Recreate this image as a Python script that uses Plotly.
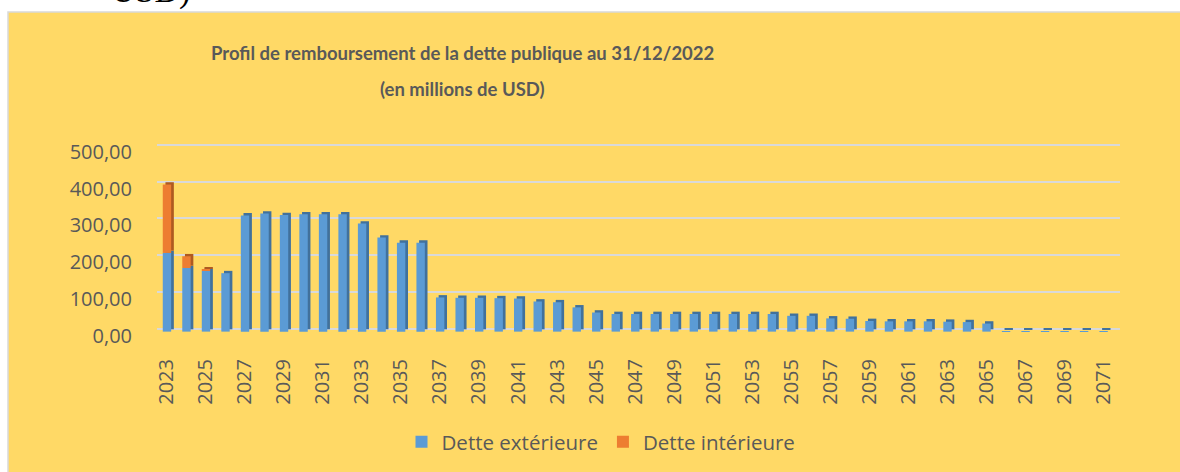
import plotly.graph_objects as go

# ---------------- data ----------------
years = [str(y) for y in range(2023, 2072)]
dette_exterieure = [214, 173, 165, 159, 316, 321, 317, 319, 319, 319,
                    294, 256, 242, 242, 93, 92, 92, 91, 90, 82,
                    80, 66, 52, 48, 48, 48, 48, 48, 48, 48,
                    48, 48, 43, 43, 36, 35, 29, 28, 28, 28,
                    27, 26, 22, 1, 1, 1, 1, 1, 1]
dette_interieure = [186, 32, 3] + [0] * 46
y_ticks = [0, 100, 200, 300, 400, 500]
y_tick_labels = ["0,00", "100,00", "200,00", "300,00", "400,00", "500,00"]
x_tick_years = years[::2]
title_line1 = "Profil de remboursement de la dette publique au 31/12/2022"
title_line2 = "(en millions de USD)"

# ---------------- style ----------------
W, H = 1180, 472
ML, MR, MT, MB = 157, 60, 143, 140
PW, PH = W - ML - MR, H - MT - MB
BG = "#FFD966"
TXT = "#595959"
BLUE, BLUE_D = "#5B9BD5", "#41719C"
ORANGE, ORANGE_D = "#ED7D31", "#AE5A21"
FONT = "Open Sans"
TITLE_FONT = "Lato"

FRONT_SHIFT = -8.0     # front plane sits a few px below the back wall (y units)
DEPTH_Y = 6.3          # vertical depth offset of bars (y units)
BAR_W = 0.43
BAR_OFF = -0.205
DEPTH_X = 0.138


def px_x(p):
    return (p - ML) / PW


def px_y(p):
    return (MT + PH - p) / PH


fig = go.Figure()

blue_base_front = [FRONT_SHIFT] * len(years)
orange_base_front = [FRONT_SHIFT + v for v in dette_exterieure]

# depth (side/top faces) drawn first
fig.add_trace(go.Bar(
    x=years, y=dette_exterieure, base=[b + DEPTH_Y for b in blue_base_front],
    width=BAR_W, offset=BAR_OFF + DEPTH_X, marker=dict(color=BLUE_D, line=dict(width=0)),
    showlegend=False, hoverinfo="skip"))
fig.add_trace(go.Bar(
    x=years, y=dette_interieure, base=[b + DEPTH_Y for b in orange_base_front],
    width=BAR_W, offset=BAR_OFF + DEPTH_X, marker=dict(color=ORANGE_D, line=dict(width=0)),
    showlegend=False, hoverinfo="skip"))
# front faces
fig.add_trace(go.Bar(
    x=years, y=dette_exterieure, base=blue_base_front, name="Dette extérieure",
    width=BAR_W, offset=BAR_OFF, marker=dict(color=BLUE, line=dict(width=0))))
fig.add_trace(go.Bar(
    x=years, y=dette_interieure, base=orange_base_front, name="Dette intérieure",
    width=BAR_W, offset=BAR_OFF, marker=dict(color=ORANGE, line=dict(width=0))))

shapes = [
    # white document strip above and left of the chart box
    dict(type="rect", xref="paper", yref="paper", x0=px_x(-5), x1=px_x(W + 5),
         y0=px_y(12), y1=px_y(-5), fillcolor="white", line=dict(width=0), layer="above"),
    dict(type="rect", xref="paper", yref="paper", x0=px_x(-5), x1=px_x(8),
         y0=px_y(H + 5), y1=px_y(-5), fillcolor="white", line=dict(width=0), layer="above"),
    # chart box border
    dict(type="rect", xref="paper", yref="paper", x0=px_x(8), x1=px_x(W + 5),
         y0=px_y(H + 5), y1=px_y(12), fillcolor="rgba(0,0,0,0)",
         line=dict(color="#D9D9D9", width=1.5), layer="above"),
]

annotations = [
    dict(text=title_line1, xref="paper", yref="paper", x=px_x(462), y=px_y(53),
         xanchor="center", yanchor="middle", showarrow=False,
         font=dict(family=TITLE_FONT, size=18.5, color=TXT, weight="bold")),
    dict(text=title_line2, xref="paper", yref="paper", x=px_x(462), y=px_y(89),
         xanchor="center", yanchor="middle", showarrow=False,
         font=dict(family=TITLE_FONT, size=18.5, color=TXT, weight="bold")),
    # clipped remnant of the document text above the chart
    dict(text="USD)", xref="paper", yref="paper", x=px_x(192), y=px_y(12),
         xanchor="right", yanchor="bottom", showarrow=False,
         font=dict(family="Liberation Serif", size=34, color="black")),
]

fig.update_layout(
    width=W, height=H,
    margin=dict(l=ML, r=MR, t=MT, b=MB),
    paper_bgcolor=BG, plot_bgcolor="rgba(0,0,0,0)",
    barmode="overlay",
    shapes=shapes,
    annotations=annotations,
    showlegend=True,
    legend=dict(orientation="h", xref="container", yref="container",
                x=601 / W, y=1 - 442 / H, xanchor="center", yanchor="middle",
                font=dict(family=FONT, size=20.5, color=TXT),
                bgcolor="rgba(0,0,0,0)", itemwidth=30, traceorder="normal"),
    xaxis=dict(type="category", categoryorder="array", categoryarray=years,
               range=[-0.5, 48.85], tickvals=x_tick_years, ticktext=x_tick_years,
               tickangle=-90, tickfont=dict(family=FONT, size=20, color=TXT),
               showgrid=False, showline=False, zeroline=False,
               ticks="outside", ticklen=18, tickcolor="rgba(0,0,0,0)"),
    yaxis=dict(range=[-9, 505], tickvals=y_ticks, ticktext=y_tick_labels,
               tickfont=dict(family=FONT, size=20, color=TXT),
               showgrid=True, gridcolor="#D9D9D9", gridwidth=2,
               zeroline=False, showline=False,
               ticks="outside", ticklen=20, tickcolor="rgba(0,0,0,0)",
               ticklabelshift=7),
    font=dict(family=FONT, color=TXT),
)

fig.write_html("out.html", config={"displayModeBar": False},
               post_script="document.body.style.margin='0px';")
